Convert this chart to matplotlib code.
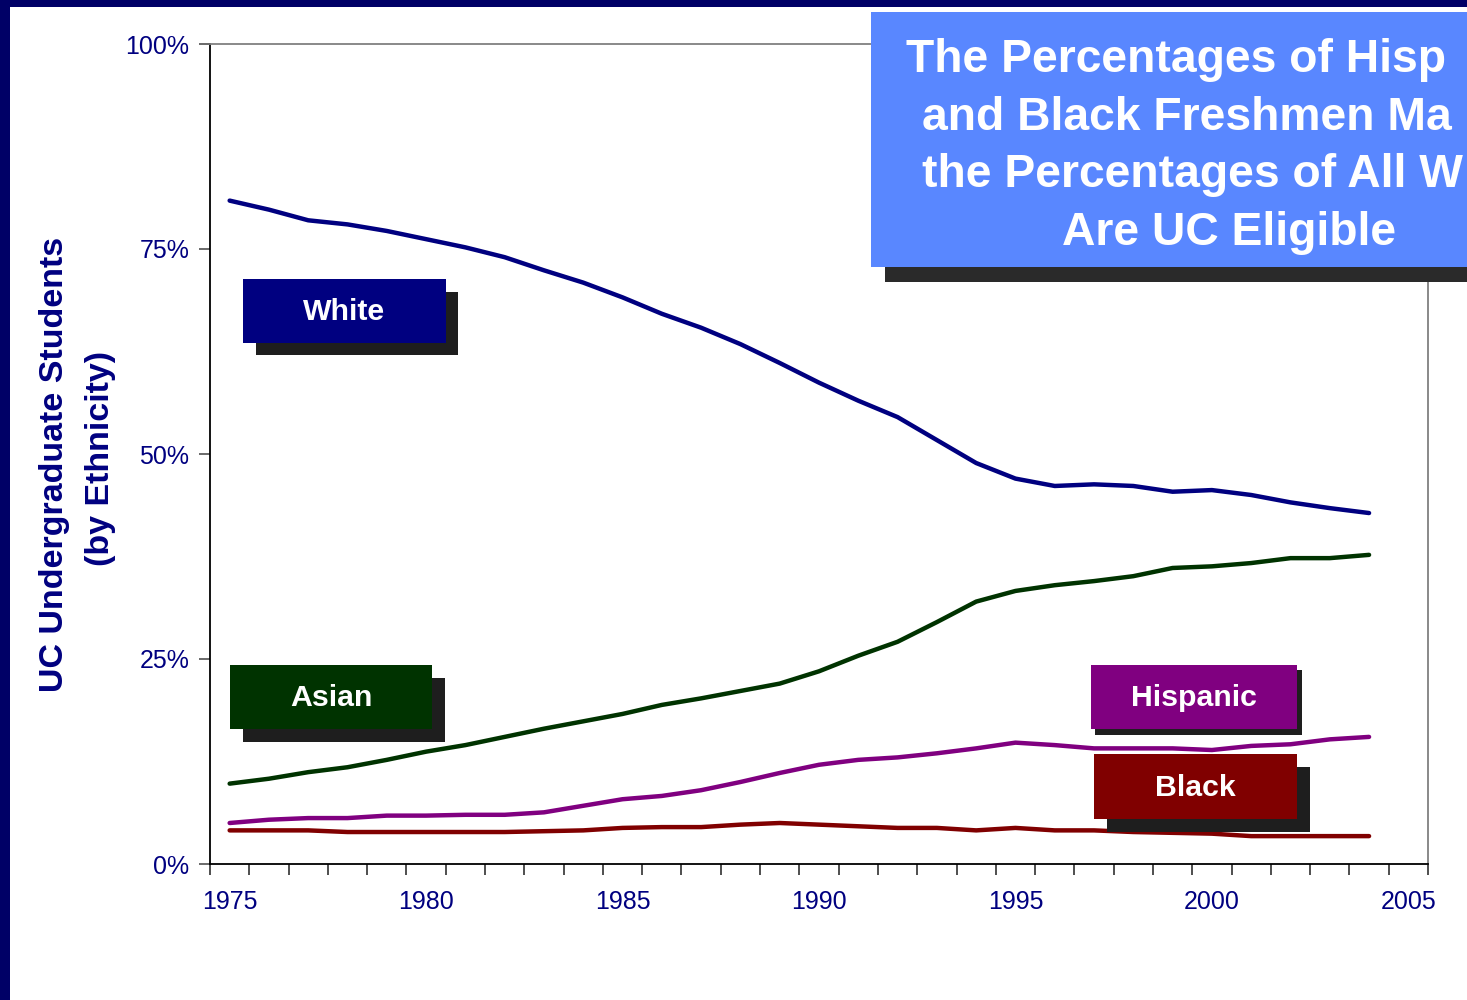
import matplotlib
matplotlib.use("Agg")
import matplotlib.pyplot as plt
from matplotlib.patches import Rectangle
from matplotlib.ticker import FixedLocator, FuncFormatter

plt.rcParams['font.family'] = ['Liberation Sans', 'DejaVu Sans']

years = list(range(1975, 2005))
white = [80.9, 79.8, 78.5, 78.0, 77.2, 76.2, 75.2, 74.0, 72.4, 70.9,
         69.1, 67.1, 65.4, 63.4, 61.1, 58.7, 56.5, 54.5, 51.7, 48.9,
         47.0, 46.1, 46.3, 46.1, 45.4, 45.6, 45.0, 44.1, 43.4, 42.8]
asian = [9.8, 10.4, 11.2, 11.8, 12.7, 13.7, 14.5, 15.5, 16.5, 17.4,
         18.3, 19.4, 20.2, 21.1, 22.0, 23.5, 25.4, 27.1, 29.5, 32.0,
         33.3, 34.0, 34.5, 35.1, 36.1, 36.3, 36.7, 37.3, 37.3, 37.7]
hispanic = [5.0, 5.4, 5.6, 5.6, 5.9, 5.9, 6.0, 6.0, 6.3, 7.1,
            7.9, 8.3, 9.0, 10.0, 11.1, 12.1, 12.7, 13.0, 13.5, 14.1,
            14.8, 14.5, 14.1, 14.1, 14.1, 13.9, 14.4, 14.6, 15.2, 15.5]
black = [4.1, 4.1, 4.1, 3.9, 3.9, 3.9, 3.9, 3.9, 4.0, 4.1,
         4.4, 4.5, 4.5, 4.8, 5.0, 4.8, 4.6, 4.4, 4.4, 4.1,
         4.4, 4.1, 4.1, 3.9, 3.8, 3.7, 3.4, 3.4, 3.4, 3.4]

series_names = ["White", "Asian", "Hispanic", "Black"]
series_colors = ["#000080", "#003300", "#800080", "#800000"]
year_labels = [1975, 1980, 1985, 1990, 1995, 2000, 2005]
pct_ticks = [0, 25, 50, 75, 100]
title_lines = ["The Percentages of Hisp", "and Black Freshmen Ma",
               "the Percentages of All W", "Are UC Eligible"]

W, H = 1467, 1000
fig = plt.figure(figsize=(W / 100, H / 100), dpi=100)
fig.patch.set_facecolor("white")


def fx(px):
    return px / W


def fy(py):
    return 1 - py / H


def rect_px(x0, y0, x1, y1, color, z=2):
    r = Rectangle((fx(x0), fy(y1)), fx(x1) - fx(x0), fy(y0) - fy(y1),
                  transform=fig.transFigure, facecolor=color,
                  edgecolor="none", zorder=z)
    fig.add_artist(r)


ax = fig.add_axes([fx(210), fy(864), fx(1428) - fx(210), fy(44) - fy(864)])
ax.set_facecolor("white")

for vals, c in zip([white, asian, hispanic, black], series_colors):
    ax.plot(years, vals, color=c, lw=3.2, solid_capstyle="round", zorder=3)

ax.set_xlim(1974.5, 2005.5)
ax.set_ylim(0, 100)

ax.xaxis.set_major_locator(FixedLocator(year_labels))
ax.xaxis.set_minor_locator(FixedLocator([y - 0.5 for y in range(1975, 2007)]))
ax.tick_params(axis="x", which="major", length=0, pad=19,
               labelsize=18, labelcolor="#000080")
ax.tick_params(axis="x", which="minor", length=8, width=1.2,
               color="#303030", direction="out")

ax.yaxis.set_major_locator(FixedLocator(pct_ticks))
ax.yaxis.set_major_formatter(FuncFormatter(lambda v, p: f"{int(v)}%"))
ax.tick_params(axis="y", which="major", length=8, width=1.2,
               color="#505050", pad=7, labelsize=18, labelcolor="#000080")

ax.spines["left"].set_color("black")
ax.spines["bottom"].set_color("black")
ax.spines["left"].set_linewidth(1.3)
ax.spines["bottom"].set_linewidth(1.3)
ax.spines["top"].set_color("#808080")
ax.spines["right"].set_color("#808080")
ax.spines["top"].set_linewidth(1.3)
ax.spines["right"].set_linewidth(1.3)

# y-axis title
fig.text(fx(55), fy(464), "UC Undergraduate Students", rotation=90,
         ha="center", va="center", fontsize=24.5, fontweight="bold",
         color="#000080")
fig.text(fx(101), fy(458), "(by Ethnicity)", rotation=90,
         ha="center", va="center", fontsize=24.5, fontweight="bold",
         color="#000080")

# series label boxes (box, shadow)
boxes = [
    ((243, 279, 446, 343), (256, 292, 458, 355)),
    ((230, 665, 432, 729), (243, 678, 445, 742)),
    ((1091, 665, 1297, 729), (1095, 670, 1302, 735)),
    ((1094, 754, 1297, 819), (1107, 767, 1310, 832)),
]
for name, col, (b, s) in zip(series_names, series_colors, boxes):
    rect_px(*s, "#1e1e1e", z=4)
    rect_px(*b, col, z=5)
    fig.text(fx((b[0] + b[2]) / 2), fy((b[1] + b[3]) / 2 + 1), name,
             ha="center", va="center", fontsize=21.8, fontweight="bold",
             color="white", zorder=6)

# title box
rect_px(885, 30, 1467, 282, "#2a2a2a", z=4)
rect_px(871, 12, 1467, 267, "#5987FF", z=5)
title_x = [906, 922, 922, 1062]
title_base = [72, 130, 187, 245]
for t, x, yb in zip(title_lines, title_x, title_base):
    fig.text(fx(x), fy(yb), t, ha="left", va="baseline", fontsize=33.3,
             fontweight="bold", color="white", zorder=6)

# navy frame on left and top
rect_px(0, 0, 1467, 7, "#000066", z=7)
rect_px(0, 0, 10, 1000, "#000066", z=7)

fig.savefig("out.png", dpi=100, facecolor="white")
